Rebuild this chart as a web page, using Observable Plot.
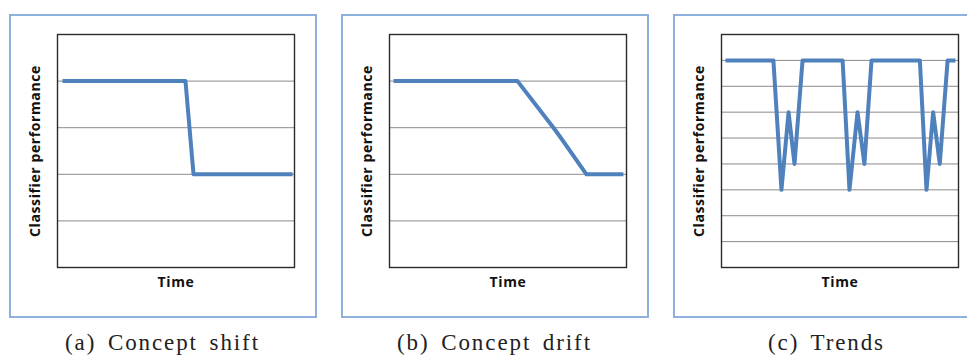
<!DOCTYPE html>
<html>
<head>
<meta charset="utf-8">
<script src="https://cdn.jsdelivr.net/npm/d3@7"></script>
<script src="https://cdn.jsdelivr.net/npm/@observablehq/plot@0.6"></script>
<style>
  html, body { margin: 0; padding: 0; background: #fff; }
  #root { position: relative; width: 967px; height: 356px; overflow: hidden; background: #fff; }
  .panel { position: absolute; top: 14px; width: 307px; height: 303px; }
  .panel svg { position: absolute; left: 0; top: 0; }
  .panel svg text { letter-spacing: 0.6px; }
  .box { position: absolute; left: 0; top: 0; width: 308px; height: 304px; box-sizing: border-box;
         border: 2px solid #8DB0DD; pointer-events: none; }
  .cap { position: absolute; top: 328px; width: 307px; text-align: center;
         font-family: "Liberation Serif", serif; font-size: 23px; line-height: 30px;
         letter-spacing: 1.9px; word-spacing: 4px; color: #222; white-space: nowrap; }
</style>
</head>
<body>
<div id="root"></div>
<script>
// ---- data ----
const gridShift = [1, 2, 3, 4];
const gridTrend = [1, 2, 3, 4, 5, 6, 7, 8];

const shiftTime = [2.1, 54, 57.4, 99.2];
const shiftPerf = [4, 4, 2, 2];

const driftTime = [1.7, 54, 69.2, 72.2, 83.1, 98.7];
const driftPerf = [4, 4, 3, 2.79, 2, 2];

const trendTime = [1.7, 21.9, 25.3, 28.3, 30.8, 34.2, 51.1, 54, 57.4, 60.3, 63.3, 83.7, 86.5, 89.3, 92.1, 95.4, 98.7];
const trendPerf = [8, 8, 3, 6, 4, 8, 8, 3, 6, 4, 8, 8, 3, 6, 4, 8, 8];

const captions = ["(a) Concept shift", "(b) Concept drift", "(c) Trends"];
const xLabel = "Time";
const yLabel = "Classifier performance";

const panels = [
  {left: 9,   time: shiftTime, perf: shiftPerf, ymax: 5, grid: gridShift, caption: captions[0]},
  {left: 341, time: driftTime, perf: driftPerf, ymax: 5, grid: gridShift, caption: captions[1]},
  {left: 673, time: trendTime, perf: trendPerf, ymax: 9, grid: gridTrend, caption: captions[2]}
];

const root = document.getElementById("root");
const labelFont = {fontFamily: "'Open Sans', sans-serif", fontWeight: "bold", fontSize: 14, fill: "#111"};

for (const p of panels) {
  const data = p.time.map((t, i) => ({t, v: p.perf[i]}));
  const wrap = document.createElement("div");
  wrap.className = "panel";
  wrap.style.left = p.left + "px";

  const chart = Plot.plot({
    width: 307,
    height: 303,
    marginLeft: 48,
    marginRight: 22,
    marginTop: 20,
    marginBottom: 50,
    x: {domain: [0, 100], axis: null},
    y: {domain: [0, p.ymax], axis: null},
    style: {background: "transparent", overflow: "visible"},
    marks: [
      Plot.ruleY(p.grid, {stroke: "#8A8A8A", strokeWidth: 1}),
      Plot.frame({stroke: "#2b2b2b", strokeWidth: 1.4}),
      Plot.line(data, {x: "t", y: "v", stroke: "#4F81BD", strokeWidth: 4, strokeLinejoin: "round", strokeLinecap: "butt"}),
      Plot.text([xLabel], {frameAnchor: "bottom", dy: 19, textAnchor: "middle", text: d => d, ...labelFont}),
      Plot.text([yLabel], {frameAnchor: "left", dx: -22, rotate: -90, textAnchor: "middle", text: d => d, ...labelFont})
    ]
  });
  wrap.appendChild(chart);
  const box = document.createElement("div");
  box.className = "box";
  wrap.appendChild(box);
  root.appendChild(wrap);

  const cap = document.createElement("div");
  cap.className = "cap";
  cap.style.left = p.left + "px";
  cap.textContent = p.caption;
  root.appendChild(cap);
}
</script>
</body>
</html>
